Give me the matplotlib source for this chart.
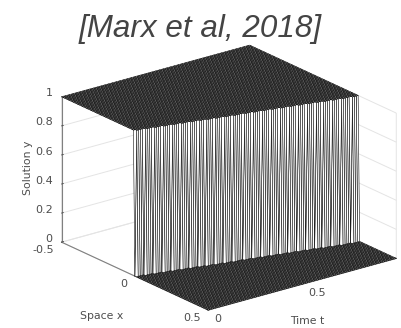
"""Travelling shock surface, y(x, t), drawn as a dense mesh."""

import matplotlib

matplotlib.use("Agg")  # headless / no display
import matplotlib.pyplot as plt
import numpy as np

TITLE = "[Marx et al, 2018]"
X_TICKS = [-0.5, 0, 0.5]
X_TICK_LABELS = ["-0.5", "0", "0.5"]
T_TICKS = [0, 0.5, 1]
T_TICK_LABELS = ["0", "0.5", ""]
Y_TICKS = [0, 0.2, 0.4, 0.6, 0.8, 1]
Y_TICK_LABELS = ["0", "0.2", "0.4", "0.6", "0.8", "1"]

X_RANGE = [-0.5, 0.5]
T_RANGE = [0, 1]
Y_LEFT = 1.0
Y_RIGHT = 0.0
SHOCK_X_START = 0.0
SHOCK_X_END = 0.25
N_MESH = 101

GRAY = "#4d4d4d"

x = np.linspace(*X_RANGE, N_MESH)
t = np.linspace(*T_RANGE, N_MESH)
xx, tt = np.meshgrid(x, t)
shock = SHOCK_X_START + (SHOCK_X_END - SHOCK_X_START) * tt
yy = np.where(xx < shock, Y_LEFT, Y_RIGHT)

fig = plt.figure(figsize=(4.01, 3.28), dpi=100)
ax = fig.add_subplot(projection="3d", proj_type="ortho")
ax.set_position([-0.0695, -0.3241, 1.247, 1.524])
ax.view_init(elev=20.9, azim=-37.6)
ax.set_box_aspect((241, 238, 156), zoom=0.7223)

ax.plot_surface(xx, tt, yy, rstride=1, cstride=1, color="white", edgecolor="black",
                linewidth=0.38, shade=False)

ax.set_xlim(*X_RANGE)
ax.set_ylim(*T_RANGE)
ax.set_zlim(0, 1)
ax.set_xticks(X_TICKS, X_TICK_LABELS)
ax.set_yticks(T_TICKS, T_TICK_LABELS)
ax.set_zticks(Y_TICKS, Y_TICK_LABELS)

ax.xaxis.set_rotate_label(False)
ax.yaxis.set_rotate_label(False)
ax.zaxis.set_rotate_label(False)
ax.set_xlabel("Space x", fontsize=7.8, color=GRAY, labelpad=12)
ax.set_ylabel("Time t", fontsize=7.8, color=GRAY, labelpad=6.8)
ax.set_zlabel("Solution y", fontsize=7.8, color=GRAY, rotation=90, labelpad=-2)
ax.xaxis._axinfo["label"].update(ha="center", va="top")
ax.yaxis._axinfo["label"].update(ha="right", va="top")

ax.zaxis.set_ticks_position("lower")
ax.zaxis.set_label_position("lower")
for axis in (ax.xaxis, ax.yaxis, ax.zaxis):
    axis.set_pane_color((1, 1, 1, 0))
    axis.pane.set_edgecolor("#dddddd")
    axis.line.set_color("#808080")
    axis.line.set_linewidth(0.8)
    axis._axinfo["grid"].update(color="#e4e4e4", linewidth=0.7)
    axis._axinfo["tick"].update(inward_factor=0.0, outward_factor=0.12, linewidth={True: 0.6, False: 0.6}, color="#808080")
    axis.set_tick_params(labelsize=8, labelcolor=GRAY, colors=GRAY)
ax.xaxis.set_tick_params(pad=-0.3)
ax.yaxis.set_tick_params(pad=-0.3)
ax.zaxis.set_tick_params(pad=-3)
for lab in ax.get_zticklabels():
    lab.set_va("baseline")
    lab.set_ha("right")
for lab in ax.get_xticklabels():
    lab.set_va("center")
    lab.set_ha("right")
for lab in ax.get_yticklabels():
    lab.set_va("center")
    lab.set_ha("left")

fig.text(0.5, 0.912, TITLE, ha="center", va="center", fontsize=22.6, style="italic",
         family="Liberation Sans", color="#444444")

fig.savefig("out.png", dpi=100)
